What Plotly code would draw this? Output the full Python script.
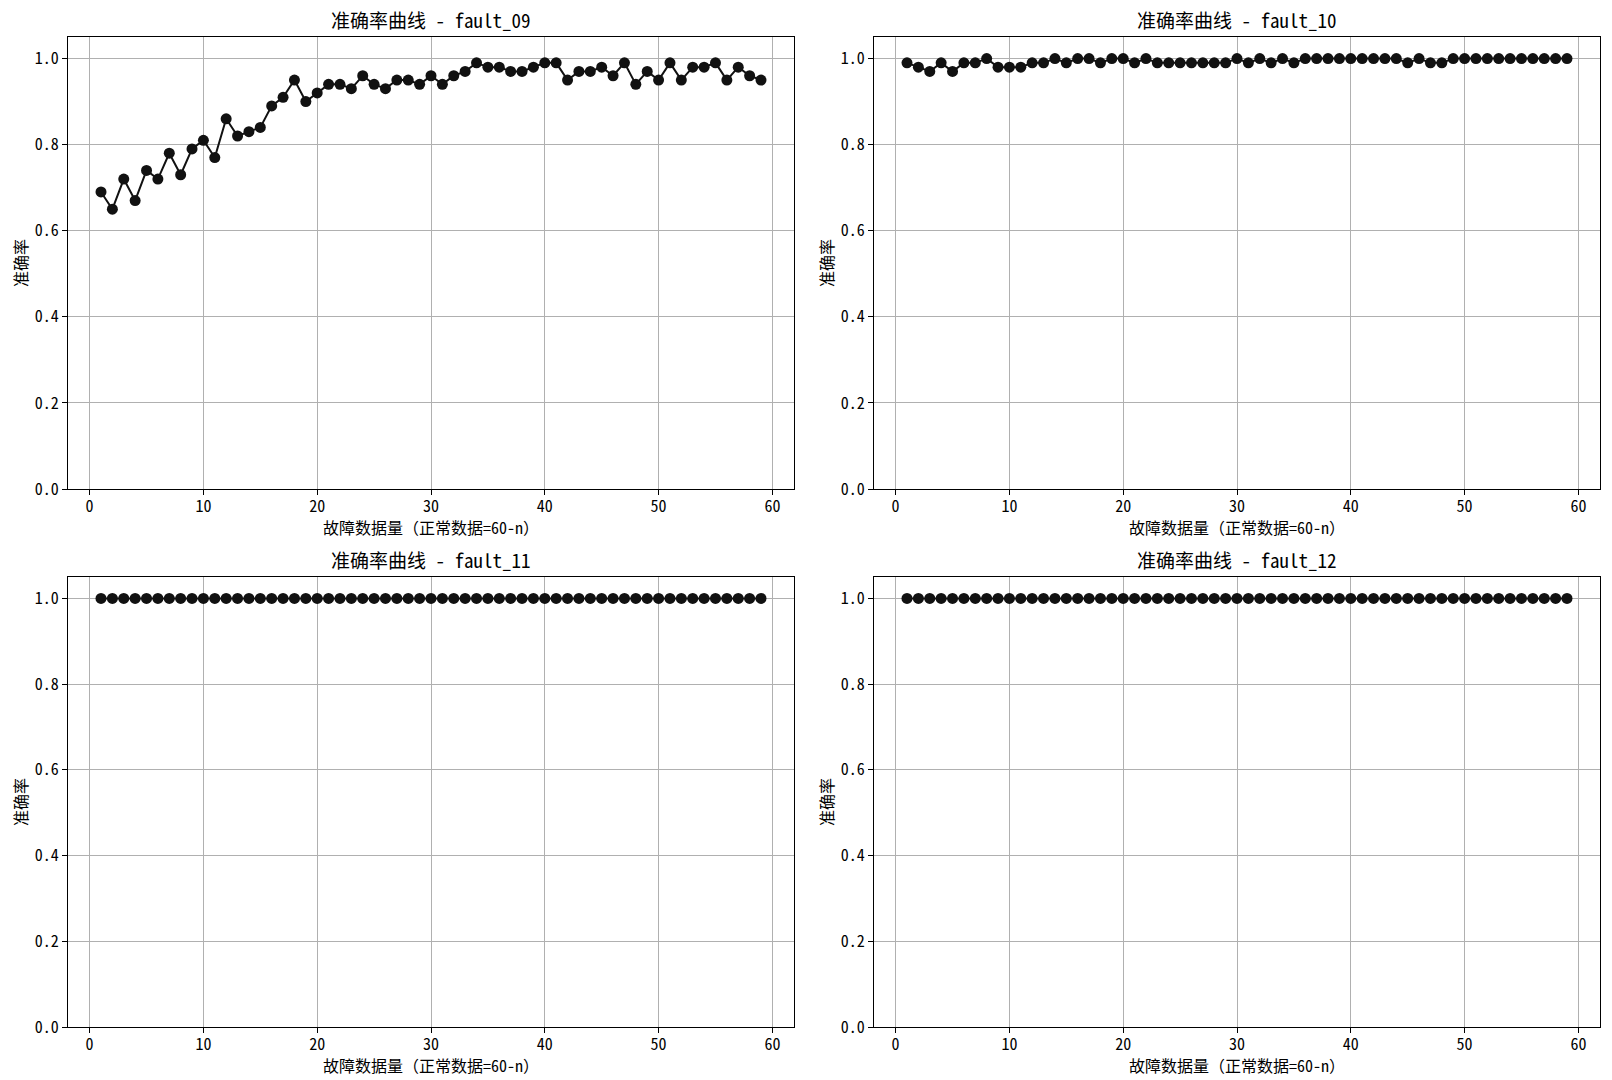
import plotly.graph_objects as go

x_vals = list(range(1, 60))

acc_fault_09 = [0.69, 0.65, 0.72, 0.67, 0.74, 0.72, 0.78, 0.73, 0.79, 0.81,
                0.77, 0.86, 0.82, 0.83, 0.84, 0.89, 0.91, 0.95, 0.90, 0.92,
                0.94, 0.94, 0.93, 0.96, 0.94, 0.93, 0.95, 0.95, 0.94, 0.96,
                0.94, 0.96, 0.97, 0.99, 0.98, 0.98, 0.97, 0.97, 0.98, 0.99,
                0.99, 0.95, 0.97, 0.97, 0.98, 0.96, 0.99, 0.94, 0.97, 0.95,
                0.99, 0.95, 0.98, 0.98, 0.99, 0.95, 0.98, 0.96, 0.95]

acc_fault_10 = [0.99, 0.98, 0.97, 0.99, 0.97, 0.99, 0.99, 1.00, 0.98, 0.98,
                0.98, 0.99, 0.99, 1.00, 0.99, 1.00, 1.00, 0.99, 1.00, 1.00,
                0.99, 1.00, 0.99, 0.99, 0.99, 0.99, 0.99, 0.99, 0.99, 1.00,
                0.99, 1.00, 0.99, 1.00, 0.99, 1.00, 1.00, 1.00, 1.00, 1.00,
                1.00, 1.00, 1.00, 1.00, 0.99, 1.00, 0.99, 0.99, 1.00, 1.00,
                1.00, 1.00, 1.00, 1.00, 1.00, 1.00, 1.00, 1.00, 1.00]

acc_fault_11 = [1.00] * 59
acc_fault_12 = [1.00] * 59

fault_names = ["fault_09", "fault_10", "fault_11", "fault_12"]
series = [acc_fault_09, acc_fault_10, acc_fault_11, acc_fault_12]

title_prefix = "准确率曲线 - "
x_label = "故障数据量（正常数据=60-n）"
y_label = "准确率"
x_ticks = [0, 10, 20, 30, 40, 50, 60]
y_ticks = [0.0, 0.2, 0.4, 0.6, 0.8, 1.0]

W, H = 1612, 1080
FONT = "Noto Sans Mono CJK SC, DejaVu Sans Mono, Noto Sans CJK SC, sans-serif"

# screen pixel boxes for the four axes: (left, top, right, bottom)
boxes = [(68, 37, 794, 489), (874, 37, 1600, 489),
         (68, 577, 794, 1027), (874, 577, 1600, 1027)]


def px(v):
    return v / W


def py(v):
    return 1 - v / H


fig = go.Figure()
annotations = []
layout_axes = {}

for i, (name, vals) in enumerate(zip(fault_names, series)):
    l, t, r, b = boxes[i]
    xa = "x" if i == 0 else f"x{i+1}"
    ya = "y" if i == 0 else f"y{i+1}"
    fig.add_trace(go.Scatter(
        x=x_vals, y=vals, mode="lines+markers",
        line=dict(color="#111111", width=2),
        marker=dict(color="#111111", size=11),
        xaxis=xa, yaxis=ya, showlegend=False,
    ))
    axis_common = dict(
        showline=True, linecolor="black", linewidth=1.2, mirror=True,
        ticks="outside", ticklen=5, tickwidth=1.1, tickcolor="black",
        showgrid=True, gridcolor="#b0b0b0", gridwidth=1.1,
        zeroline=False, automargin=False,
        tickfont=dict(family=FONT, size=16, color="black"),
    )
    xkey = "xaxis" if i == 0 else f"xaxis{i+1}"
    ykey = "yaxis" if i == 0 else f"yaxis{i+1}"
    layout_axes[xkey] = dict(
        axis_common, domain=[px(l), px(r)], anchor=ya,
        range=[-1.9, 61.9], tickvals=x_ticks,
        ticktext=[str(v) for v in x_ticks], ticklabelstandoff=-2,
    )
    layout_axes[ykey] = dict(
        axis_common, domain=[py(b), py(t)], anchor=xa,
        range=[0, 1.05], tickvals=y_ticks,
        ticktext=[f"{v:.1f}" for v in y_ticks],
    )
    cx = (l + r) / 2
    cy = (t + b) / 2
    annotations.append(dict(
        text=title_prefix + name, x=px(cx), y=py(t - 18),
        xref="paper", yref="paper", showarrow=False,
        xanchor="center", yanchor="middle",
        font=dict(family=FONT, size=19, color="black"),
    ))
    annotations.append(dict(
        text=x_label, x=px(cx), y=py(b + 38),
        xref="paper", yref="paper", showarrow=False,
        xanchor="center", yanchor="middle", borderpad=0,
        font=dict(family=FONT, size=16, color="black"),
    ))
    annotations.append(dict(
        text=y_label, x=px(l - 48), y=py(cy),
        xref="paper", yref="paper", showarrow=False, textangle=-90,
        xanchor="center", yanchor="middle", borderpad=0,
        font=dict(family=FONT, size=16, color="black"),
    ))

fig.update_layout(
    width=W, height=H,
    margin=dict(l=0, r=0, t=0, b=0),
    paper_bgcolor="white", plot_bgcolor="white",
    annotations=annotations,
    **layout_axes,
)

fig.write_html(
    "out.html",
    config={"displayModeBar": False},
    post_script=("document.body.style.margin='0';"
                 "document.body.style.overflow='hidden';"
                 "document.documentElement.style.overflow='hidden';"),
)
